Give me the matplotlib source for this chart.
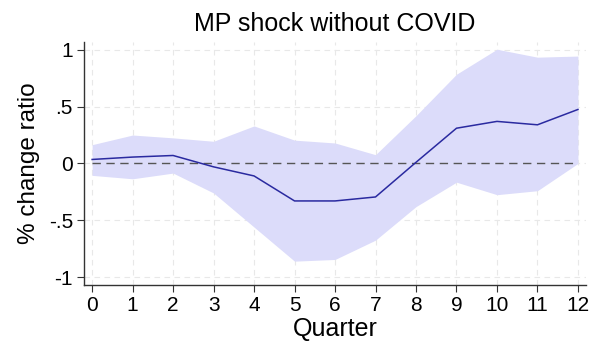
import numpy as np
import matplotlib.pyplot as plt

plt.rcParams['font.family'] = ['Liberation Sans', 'DejaVu Sans']

quarter = np.arange(0, 13)
irf = [0.035, 0.056, 0.07, -0.03, -0.11, -0.33, -0.33, -0.295, 0.01, 0.31, 0.37, 0.34, 0.475]
upper = [0.165, 0.25, 0.225, 0.195, 0.33, 0.205, 0.18, 0.077, 0.42, 0.785, 1.005, 0.935, 0.945]
lower = [-0.105, -0.135, -0.085, -0.26, -0.56, -0.86, -0.845, -0.675, -0.38, -0.165, -0.275, -0.24, 0.0]
yticks = [-1, -0.5, 0, 0.5, 1]
ylabels = ['-1', '-.5', '0', '.5', '1']

fig = plt.figure(figsize=(5.98, 3.43), dpi=100)
ax = fig.add_axes([0.1405, 0.169, 0.8395, 0.709])

ax.fill_between(quarter, lower, upper, color='#dcdcfa', lw=0, zorder=1)
ax.plot(quarter, irf, color='#2a2aa0', lw=1.1, zorder=3)
# zero reference line only over the horizon
ax.hlines(0, quarter[0], quarter[-1], color='#555555', lw=1, ls=(0, (6, 4)), zorder=2)

ax.set_xlim(-0.2, 12.2)
ax.set_ylim(-1.07, 1.07)
ax.set_xticks(quarter)
ax.set_yticks(yticks)
ax.set_yticklabels(ylabels)
ax.grid(True, color='#e8e8e8', lw=0.8, ls=(0, (5, 4)), zorder=0)
ax.set_axisbelow(True)

for s in ['top', 'right']:
    ax.spines[s].set_visible(False)
for s in ['left', 'bottom']:
    ax.spines[s].set_color('#333333')
    ax.spines[s].set_linewidth(1)
ax.tick_params(labelsize=15, length=5, color='#333333', pad=3)

ax.set_title('MP shock without COVID', fontsize=18, pad=8)
ax.set_xlabel('Quarter', fontsize=18, labelpad=1)
ax.set_ylabel('% change ratio', fontsize=17.5, labelpad=6)

fig.savefig('out.png', dpi=100)
